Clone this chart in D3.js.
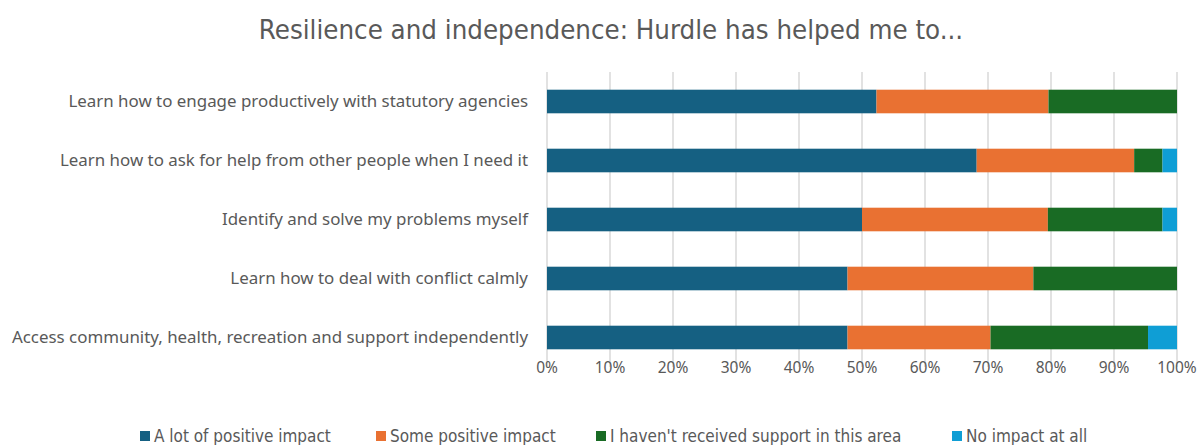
<!DOCTYPE html>
<html>
<head>
<meta charset="utf-8">
<script src="https://cdn.jsdelivr.net/npm/d3@7"></script>
<style>
  body { margin: 0; background: #fff; }
  text { fill: #595959; }
</style>
</head>
<body>
<div id="chart"></div>
<script>
var categories = [
	"Learn how to engage productively with statutory agencies",
	"Learn how to ask for help from other people when I need it",
	"Identify and solve my problems myself",
	"Learn how to deal with conflict calmly",
	"Access community, health, recreation and support independently"
];
var seriesNames = ["A lot of positive impact", "Some positive impact", "I haven't received support in this area", "No impact at all"];
var colors = ["#156082", "#E97132", "#196B24", "#0F9ED5"];

// percentages per category, same order as categories
var aLot = [52.3, 68.2, 50.0, 47.7, 47.7];
var some = [27.3, 25.0, 29.5, 29.5, 22.7];
var none = [20.4, 4.5, 18.2, 22.8, 25.0];
var noImpact = [0, 2.3, 2.3, 0, 4.6];
var ticks = [0, 10, 20, 30, 40, 50, 60, 70, 80, 90, 100];

var width = 1203, height = 445;
var svg = d3.select("#chart").append("svg")
	.attr("width", width)
	.attr("height", height);

var x = d3.scaleLinear().domain([0, 100]).range([547, 1177]);
var y = d3.scaleBand().domain(categories).range([72, 367])
	.paddingInner(0.6).paddingOuter(0.3);

// gridlines (extend below as ticks)
svg.append("g")
	.selectAll("line")
	.data(ticks)
	.enter().append("line")
	.attr("x1", function(d) { return x(d); })
	.attr("x2", function(d) { return x(d); })
	.attr("y1", 72)
	.attr("y2", 367)
	.attr("stroke", "#d9d9d9")
	.attr("stroke-width", 1.5);

var rows = categories.map(function(c, i) {
	return { cat: c, vals: [aLot[i], some[i], none[i], noImpact[i]] };
});
var stack = d3.stack().keys([0, 1, 2, 3]).value(function(d, k) { return d.vals[k]; });
var layers = stack(rows);

svg.append("g")
	.selectAll("g")
	.data(layers)
	.enter().append("g")
	.attr("fill", function(d, i) { return colors[i]; })
	.selectAll("rect")
	.data(function(d) { return d; })
	.enter().append("rect")
	.attr("x", function(d) { return x(d[0]); })
	.attr("width", function(d) { return x(d[1]) - x(d[0]); })
	.attr("y", function(d) { return y(d.data.cat); })
	.attr("height", y.bandwidth());

// category labels
svg.append("g")
	.selectAll("text")
	.data(categories)
	.enter().append("text")
	.attr("x", 528)
	.attr("y", function(d) { return y(d) + y.bandwidth() / 2; })
	.attr("dy", "0.35em")
	.attr("text-anchor", "end")
	.style("font-family", "'Noto Sans', sans-serif")
	.style("font-size", "16.9px")
	.text(function(d) { return d; });

// x tick labels
svg.append("g")
	.selectAll("text")
	.data(ticks)
	.enter().append("text")
	.attr("x", function(d) { return x(d); })
	.attr("y", 373)
	.attr("text-anchor", "middle")
	.style("font-family", "'Noto Sans', sans-serif")
	.style("font-size", "15.5px")
	.text(function(d) { return d + "%"; });

// title
svg.append("text")
	.attr("x", 611)
	.attr("y", 39)
	.attr("text-anchor", "middle")
	.style("font-family", "'DejaVu Sans Condensed', 'Noto Sans', sans-serif")
	.style("font-size", "27.4px")
	.text("Resilience and independence: Hurdle has helped me to...");

// legend
var legendX = [140, 376, 596, 952];
var legend = svg.append("g")
	.selectAll("g")
	.data(seriesNames)
	.enter().append("g")
	.attr("transform", function(d, i) { return "translate(" + legendX[i] + ",0)"; });
legend.append("rect")
	.attr("x", 0)
	.attr("y", 431)
	.attr("width", 10)
	.attr("height", 10)
	.attr("fill", function(d, i) { return colors[i]; });
legend.append("text")
	.attr("x", 14)
	.attr("y", 442)
	.style("font-family", "'DejaVu Sans Condensed', 'Noto Sans', sans-serif")
	.style("font-size", "17px")
	.text(function(d) { return d; });
</script>
</body>
</html>
